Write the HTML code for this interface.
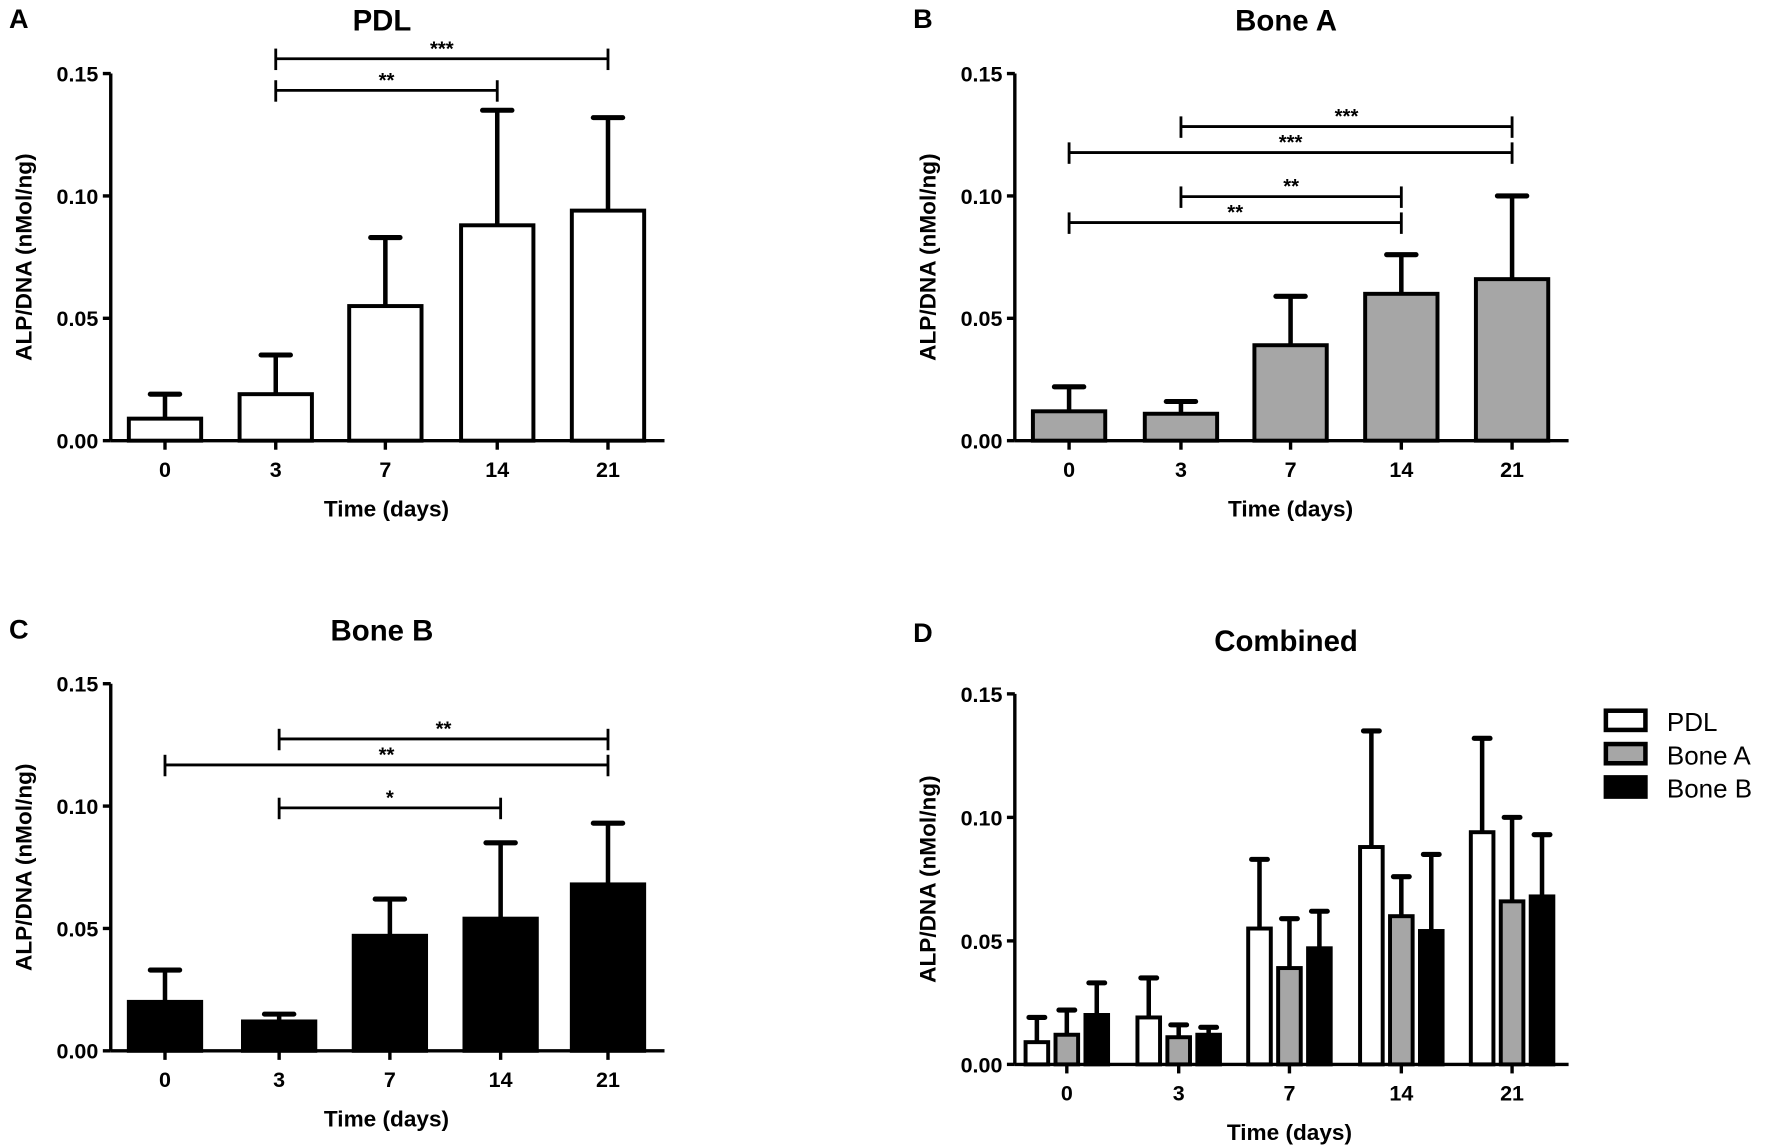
<!DOCTYPE html>
<html><head><meta charset="utf-8"><style>
html,body{margin:0;padding:0;background:#fff;}
svg{display:block;font-family:"Liberation Sans",Arial,sans-serif;}
</style></head><body>
<svg id="fig" width="1772" height="1148" viewBox="0 0 1568 1016" preserveAspectRatio="none" xmlns="http://www.w3.org/2000/svg"></svg>
<script>
const days = ["0","3","7","14","21"];
const pdlMean = [0.009, 0.019, 0.055, 0.088, 0.094];
const pdlErr  = [0.019, 0.035, 0.083, 0.135, 0.132];
const boneAMean = [0.012, 0.011, 0.039, 0.060, 0.066];
const boneAErr  = [0.022, 0.016, 0.059, 0.076, 0.100];
const boneBMean = [0.020, 0.012, 0.047, 0.054, 0.068];
const boneBErr  = [0.033, 0.015, 0.062, 0.085, 0.093];
const yTicks = [0, 0.05, 0.10, 0.15];
const yTickLabels = ["0.00","0.05","0.10","0.15"];
const sigA = [[1,4,"***"],[1,3,"**"]];
const sigB = [[1,4,"***"],[0,4,"***"],[1,3,"**"],[0,3,"**"]];
const sigC = [[1,4,"**"],[0,4,"**"],[1,3,"*"]];
const sigYA = [52,80];
const sigYB = [112,135,174,197];
const sigYC = [654,677,715];

const NS="http://www.w3.org/2000/svg";
const svg=document.getElementById('fig');
function mk(tag,attrs,parent){const e=document.createElementNS(NS,tag);for(const k in attrs)e.setAttribute(k,attrs[k]);(parent||svg).appendChild(e);return e;}

function panel(cfg){
  const g=mk('g',{});
  
  
  const y=v=>cfg.y0-(v/0.05)*cfg.unit;
  const x=i=>cfg.centers[i];
  const L=mk('text',{x:cfg.ax-90,y:cfg.letterY,'font-size':24,'font-weight':'bold'},g);L.textContent=cfg.letter;
  
  
  const T=mk('text',{x:(cfg.ax+cfg.axEnd)/2-5,y:cfg.titleY,'font-size':26,'font-weight':'bold','text-anchor':'middle'},g);T.textContent=cfg.title;
  
  
  cfg.series.forEach(s=>{
    s.mean.forEach((m,i)=>{
      const cx=x(i)+s.off;
      const top=y(s.err[i]);
      const el=mk('line',{x1:cx,x2:cx,y1:y(m),y2:top,stroke:'#000','stroke-width':4},g);
      
      
      const cap=mk('line',{x1:cx-cfg.cap,x2:cx+cfg.cap,y1:top,y2:top,stroke:'#000','stroke-width':4.5,'stroke-linecap':'round'},g);
      
      
      const r=mk('rect',{x:cx-cfg.bw/2,y:y(m),width:cfg.bw,height:cfg.y0-y(m),fill:s.fill,stroke:'#000','stroke-width':3.5},g);
      
      
    });
  });
  mk('line',{x1:cfg.ax,x2:cfg.ax,y1:y(0.15),y2:cfg.y0,stroke:'#000','stroke-width':3},g);
  mk('line',{x1:cfg.ax,x2:cfg.axEnd,y1:cfg.y0,y2:cfg.y0,stroke:'#000','stroke-width':3},g);
  yTicks.forEach((t,i)=>{
    mk('line',{x1:cfg.ax-7,x2:cfg.ax,y1:y(t),y2:y(t),stroke:'#000','stroke-width':3},g);
    const tl=mk('text',{x:cfg.ax-11,y:y(t)+7,'font-size':19,'font-weight':'bold','text-anchor':'end'},g);tl.textContent=yTickLabels[i];
    
    
  });
  days.forEach((d,i)=>{
    mk('line',{x1:x(i),x2:x(i),y1:cfg.y0,y2:cfg.y0+8,stroke:'#000','stroke-width':3},g);
    const tl=mk('text',{x:x(i),y:cfg.y0+32,'font-size':19,'font-weight':'bold','text-anchor':'middle'},g);tl.textContent=d;
    
    
  });
  const xt=mk('text',{x:(x(0)+x(4))/2,y:cfg.y0+67,'font-size':20,'font-weight':'bold','text-anchor':'middle'},g);xt.textContent='Time (days)';
  
  
  const ymid=(y(0.15)+cfg.y0)/2;
  const yt=mk('text',{x:0,y:0,'font-size':20,'font-weight':'bold','text-anchor':'middle',transform:`translate(${cfg.ax-70},${ymid}) rotate(-90)`},g);yt.textContent='ALP/DNA (nMol/ng)';
  
  
  (cfg.sig||[]).forEach((s,k)=>{
    const ly=cfg.sigY[k];const x1=x(s[0]),x2=x(s[1]);
    const sg=mk('g',{},g);
    
    
    mk('line',{x1:x1,x2:x2,y1:ly,y2:ly,stroke:'#000','stroke-width':2.5},sg);
    mk('line',{x1:x1,x2:x1,y1:ly-9,y2:ly+10,stroke:'#000','stroke-width':2.5},sg);
    mk('line',{x1:x2,x2:x2,y1:ly-9,y2:ly+10,stroke:'#000','stroke-width':2.5},sg);
    const st=mk('text',{x:(x1+x2)/2,y:ly-3,'font-size':18,'font-weight':'bold','text-anchor':'middle'},sg);st.textContent=s[2];
  });
  return g;
}

panel({name:'panel-a-pdl',letter:'A',title:'PDL',letterY:25,titleY:27,ax:98,axEnd:588,y0:390,unit:108.3,centers:[146,244,341,440,538],bw:64,cap:13,
  series:[{key:'pdl',mean:pdlMean,err:pdlErr,fill:'#fff',off:0}],sig:sigA,sigY:sigYA});
panel({name:'panel-b-bone-a',letter:'B',title:'Bone A',letterY:25,titleY:27,ax:898,axEnd:1388,y0:390,unit:108.3,centers:[946,1045,1142,1240,1338],bw:64,cap:13,
  series:[{key:'bone-a',mean:boneAMean,err:boneAErr,fill:'#a6a6a6',off:0}],sig:sigB,sigY:sigYB});
panel({name:'panel-c-bone-b',letter:'C',title:'Bone B',letterY:565,titleY:567,ax:98,axEnd:588,y0:930,unit:108.3,centers:[146,247,345,443,538],bw:64,cap:13,
  series:[{key:'bone-b',mean:boneBMean,err:boneBErr,fill:'#000',off:0}],sig:sigC,sigY:sigYC});
panel({name:'panel-d-combined',letter:'D',title:'Combined',letterY:568,titleY:576,ax:898,axEnd:1388,y0:942,unit:109.3,centers:[944,1043,1141,1240,1338],bw:20,cap:7,
  series:[{key:'pdl',mean:pdlMean,err:pdlErr,fill:'#fff',off:-26.5},
          {key:'bone-a',mean:boneAMean,err:boneAErr,fill:'#a6a6a6',off:0},
          {key:'bone-b',mean:boneBMean,err:boneBErr,fill:'#000',off:26.5}]});

const legendNames=["PDL","Bone A","Bone B"];
const legendFills=["#fff","#a6a6a6","#000"];
legendNames.forEach((n,i)=>{
  const lg=mk('g',{});
  
  
  mk('rect',{x:1421,y:629+i*29.5,width:35,height:17,fill:legendFills[i],stroke:'#000','stroke-width':4},lg);
  const t=mk('text',{x:1475,y:647+i*29.5,'font-size':23},lg);t.textContent=n;
});
</script>
</body></html>
